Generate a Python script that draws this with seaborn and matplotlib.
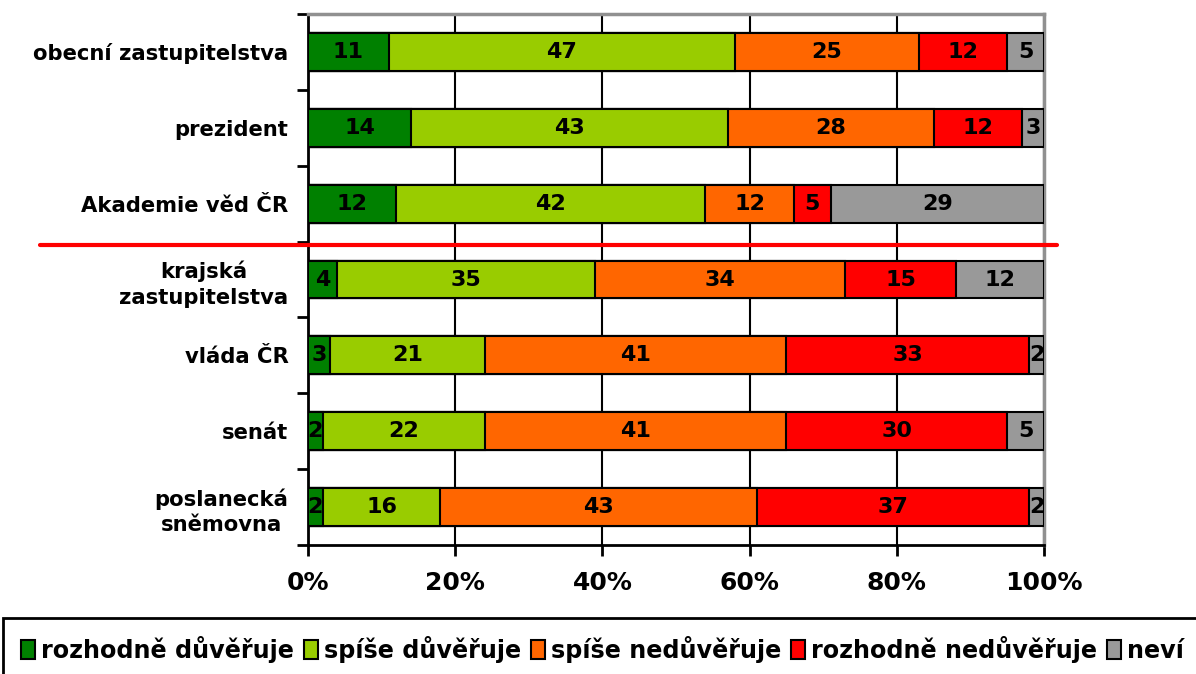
import matplotlib
matplotlib.use('Agg')
import matplotlib.pyplot as plt
from matplotlib.lines import Line2D
from matplotlib.patches import Patch
from matplotlib.ticker import FixedLocator
import seaborn as sns
import pandas as pd

##### DATA #####
institutions = ['obecní zastupitelstva', 'prezident', 'Akademie věd ČR',
                'krajská\nzastupitelstva', 'vláda ČR', 'senát',
                'poslanecká\nsněmovna']
answers = ['rozhodně důvěřuje', 'spíše důvěřuje', 'spíše nedůvěřuje',
           'rozhodně nedůvěřuje', 'neví']
rozhodne_duveruje = [11, 14, 12, 4, 3, 2, 2]
spise_duveruje = [47, 43, 42, 35, 21, 22, 16]
spise_neduveruje = [25, 28, 12, 34, 41, 41, 43]
rozhodne_neduveruje = [12, 12, 5, 15, 33, 30, 37]
nevi = [5, 3, 29, 12, 2, 5, 2]
x_ticks = [0, 20, 40, 60, 80, 100]

colors = ['#008000', '#99CC00', '#FF6600', '#FF0000', '#999999']

df = pd.DataFrame({'instituce': institutions})
for name, vals in zip(answers, [rozhodne_duveruje, spise_duveruje,
                                spise_neduveruje, rozhodne_neduveruje, nevi]):
    df[name] = vals
cum = df[answers].cumsum(axis=1)
cum = cum.div(cum[answers[-1]], axis=0) * 100
#####

##### PLOTTING #####
sns.set_style('white')
plt.rcParams['font.family'] = ['DejaVu Sans']
plt.rcParams['font.weight'] = 'bold'
plt.rcParams['text.color'] = 'black'
plt.rcParams['xtick.color'] = 'black'
plt.rcParams['ytick.color'] = 'black'

fig = plt.figure(figsize=(11.96, 6.74), dpi=100)
ax = fig.add_axes([308 / 1196, 1 - 545 / 674, (1044 - 308) / 1196, (545 - 14) / 674])

# stacked bars: draw cumulative totals from the largest down
for i in reversed(range(len(answers))):
    sns.barplot(x=cum[answers[i]], y=df['instituce'], orient='h',
                color=colors[i], saturation=1, width=0.5,
                edgecolor='black', linewidth=1.5, ax=ax, zorder=3)

for row in range(len(df)):
    for i, name in enumerate(answers):
        val = df[name].iloc[row]
        centre = cum[name].iloc[row] - val / 2
        ax.text(centre, row, str(val), ha='center', va='center',
                fontsize=16, fontweight='bold', color='black', zorder=5)

ax.set_xlim(0, 100)
ax.set_ylim(len(df) - 0.5, -0.5)
ax.set_xticks(x_ticks)
ax.set_xticklabels([f'{t}%' for t in x_ticks], fontsize=18, fontweight='bold')
ax.yaxis.set_minor_locator(FixedLocator([r - 0.5 for r in range(len(df) + 1)]))
ax.tick_params(axis='y', which='major', length=0, pad=14, labelsize=15.2)
ax.tick_params(axis='y', which='minor', left=True, length=8, width=2, color='black')
ax.tick_params(axis='x', bottom=True, length=8, width=2, color='black', pad=11)
for lab in ax.get_yticklabels():
    lab.set_fontweight('bold')
    lab.set_multialignment('center')
    lab.set_linespacing(1.35)
ax.set_xlabel('')
ax.set_ylabel('')

ax.set_axisbelow(True)
ax.grid(axis='x', color='black', linewidth=1.5)
ax.grid(axis='y', visible=False)
for side in ['left', 'bottom']:
    ax.spines[side].set_color('black')
    ax.spines[side].set_linewidth(2)
for side in ['top', 'right']:
    ax.spines[side].set_color('#909090')
    ax.spines[side].set_linewidth(2.5)

# red separator line
fig.add_artist(Line2D([40 / 1196, 1057 / 1196], [1 - 245 / 674] * 2,
                      color='#FF0000', linewidth=3))

handles = [Patch(facecolor=c, edgecolor='black', linewidth=1.5) for c in colors]
leg = fig.legend(handles, answers, loc='upper left',
                 bbox_to_anchor=(3 / 1196, 1 - 618 / 674), ncol=5,
                 frameon=True, fancybox=False, edgecolor='black', framealpha=1,
                 handlelength=0.6, handleheight=0.8, handletextpad=0.25,
                 columnspacing=0.4, borderpad=0.75, borderaxespad=0,
                 prop={'weight': 'bold', 'size': 17.2})
leg.get_frame().set_linewidth(2)

plt.savefig('out.png', dpi=100)
